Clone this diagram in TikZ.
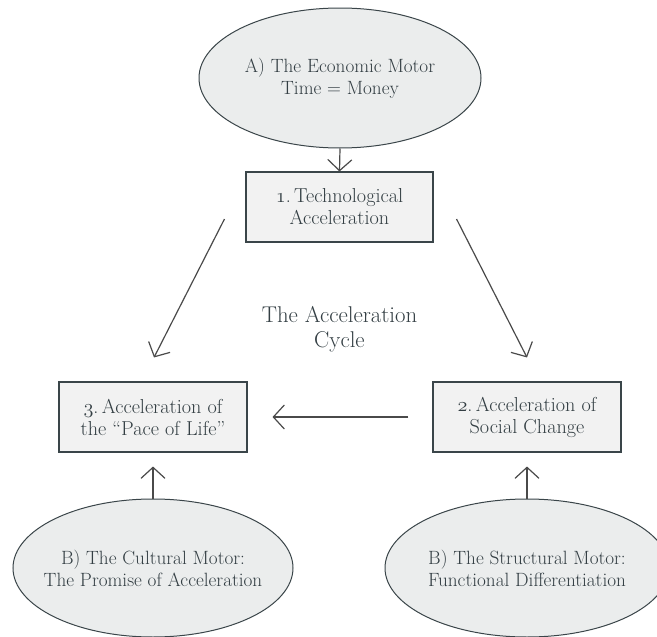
\documentclass[tikz,border=0pt]{standalone}
\usepackage{fix-cm}
\usepackage{fontspec}
\usetikzlibrary{shapes.geometric,arrows.meta,calc}

% old-style figures taken from the math italic font
\newcommand{\osfig}[1]{\ensuremath{\mathnormal{#1}}}

\definecolor{inktext}{HTML}{333E43}
\definecolor{inkline}{HTML}{3A4549}
\definecolor{arrowgray}{HTML}{4A4A4A}
\definecolor{boxfill}{HTML}{F2F2F2}
\definecolor{motorfill}{HTML}{EBEDED}

\tikzset{
  stagebox/.style={draw=inkline, line width=1.05pt, fill=boxfill,
    minimum width=187pt, minimum height=70pt, inner sep=0pt,
    align=center, text=inktext, font=\fontsize{20.2}{22}\selectfont},
  % negative x-sep keeps the ellipse at its minimum size
  motor/.style={ellipse, draw=inkline, line width=1pt, fill=motorfill,
    inner ysep=0pt, inner xsep=-30pt, align=center, text=inktext,
    font=\fontsize{19.2}{22}\selectfont},
  arr/.style={draw=arrowgray, line width=1.2pt,
    -{Straight Barb[length=11pt,width=24pt,line width=1.2pt]}},
  title/.style={align=center, text=inktext, font=\fontsize{22.8}{25}\selectfont}
}

\begin{document}
\begin{tikzpicture}[x=1pt,y=-1pt]
  \useasboundingbox (0,0) rectangle (657,637);
  \clip (0,0) rectangle (657,637);

  % motors
  \node[motor, minimum width=282pt, minimum height=140pt] (econ) at (340,78)
    {A) The Economic Motor\\Time = Money};
  \node[motor, minimum width=280pt, minimum height=138pt] (cult) at (153,568)
    {B) The Cultural Motor:\\The Promise of Acceleration};
  \node[motor, minimum width=284pt, minimum height=138pt] (struct) at (527,568)
    {B) The Structural Motor:\\Functional Differentiation};

  % stages of the cycle
  \node[stagebox] (tech) at (339.5,207) {\osfig{1}.\,Technological\\Acceleration};
  \node[stagebox, minimum width=188pt] (pace) at (153,417)
    {\osfig{3}.\,Acceleration of\\the “Pace of Life”};
  \node[stagebox, minimum width=188pt] (social) at (527,417)
    {\osfig{2}.\,Acceleration of\\Social Change};

  \node[title] (cycle) at (339.5,329) {The Acceleration\\Cycle};

  % connectors
  \draw[arr] (econ.south) -- (tech.north);
  \draw[arr] ($(tech.west)+(-21,12)$) -- ($(pace.north)+(1,-24)$);
  \draw[arr] ($(tech.east)+(23,12)$) -- ($(social.north)+(0,-24)$);
  \draw[arr, shorten <=24pt, shorten >=25pt] (social.west) -- (pace.east);
  \draw[arr, shorten >=14pt] (cult.north) -- (pace.south);
  \draw[arr, shorten >=14pt] (struct.north) -- (social.south);
\end{tikzpicture}
\end{document}
